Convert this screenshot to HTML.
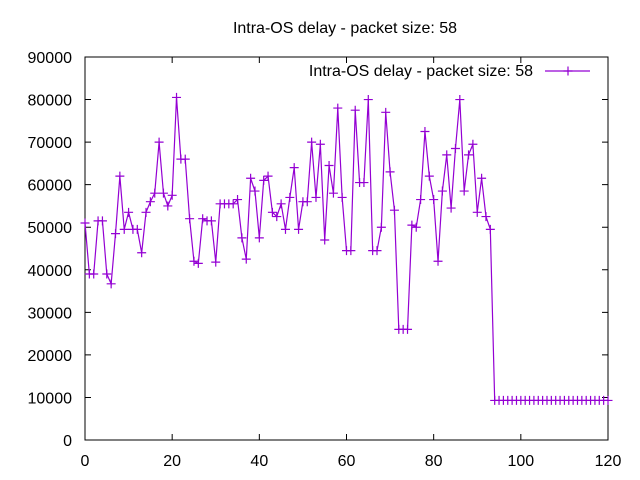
<!DOCTYPE html>
<html><head><meta charset="utf-8"><style>
body{margin:0;background:#fff}
svg{display:block;font-family:"Liberation Sans",sans-serif;font-size:16px}
</style></head><body>
<svg id="chart" width="640" height="480">
<text x="345" y="33" text-anchor="middle">Intra-OS delay - packet size: 58</text>
<rect x="85" y="57" width="523" height="383" fill="none" stroke="#000"/>
<g id="axes"></g>
<g>
<text x="533" y="76" text-anchor="end">Intra-OS delay - packet size: 58</text>
<line x1="545" y1="71" x2="590" y2="71" stroke="#9400d3" stroke-width="1.2"/>
<path d="M563.5 71h9M568 66.5v9" stroke="#9400d3" stroke-width="1.2"/>
</g>
<g id="series"></g>
</svg>
<script>
const xTicks=[0,20,40,60,80,100,120];
const yTicks=[0,10000,20000,30000,40000,50000,60000,70000,80000,90000];
const delays=[51000,39000,39000,51500,51500,39000,36700,48500,62000,49500,53500,49500,49500,44000,53500,56000,58000,70000,58000,55000,57500,80500,66000,66000,52000,42000,41500,52000,51500,51500,41800,55500,55500,55500,55500,56500,47500,42500,61500,58500,47500,61000,62000,53500,52500,55500,49500,57000,64000,49500,56000,56000,70000,57000,69500,47000,64500,58000,78000,57000,44500,44500,77500,60500,60500,80000,44500,44500,50000,77000,63000,54000,26000,26000,26000,50500,50000,56500,72500,62000,56500,42000,58500,67000,54500,68500,80000,58500,67000,69500,53500,61500,52500,49500,9300,9300,9300,9300,9300,9300,9300,9300,9300,9300,9300,9300,9300,9300,9300,9300,9300,9300,9300,9300,9300,9300,9300,9300,9300,9300,9300];
const L=85,R=608,T=57,B=440;
const sx=v=>L+(v-0)/120*(R-L);
const sy=v=>B-(v-0)/90000*(B-T);
const NS="http://www.w3.org/2000/svg";
const axes=document.getElementById('axes');
function mk(tag,attrs,parent){const e=document.createElementNS(NS,tag);for(const k in attrs)e.setAttribute(k,attrs[k]);parent.appendChild(e);return e;}
xTicks.forEach(t=>{
  const x=sx(t);
  const tk=mk('path',{d:`M${x} ${B}v-6M${x} ${T}v6`,stroke:'#000'},axes);
  
  
  const lb=mk('text',{x:x,y:B+26,'text-anchor':'middle'},axes);
  lb.textContent=t;
  
  
});
yTicks.forEach(t=>{
  const y=sy(t);
  const tk=mk('path',{d:`M${L} ${y}h6M${R} ${y}h-6`,stroke:'#000'},axes);
  
  
  const lb=mk('text',{x:L-13,y:y+6,'text-anchor':'end'},axes);
  lb.textContent=t;
  
  
});
const g=document.getElementById('series');
const pts=delays.map((v,i)=>sx(i).toFixed(2)+','+sy(v).toFixed(2)).join(' ');
const line=mk('polyline',{points:pts,fill:'none',stroke:'#9400d3','stroke-width':1.2},g);


delays.forEach((v,i)=>{
  const x=sx(i),y=sy(v);
  const m=mk('path',{d:`M${x-4.5} ${y}h9M${x} ${y-4.5}v9`,stroke:'#9400d3','stroke-width':1.2},g);
  
  
});
</script>
</body></html>
